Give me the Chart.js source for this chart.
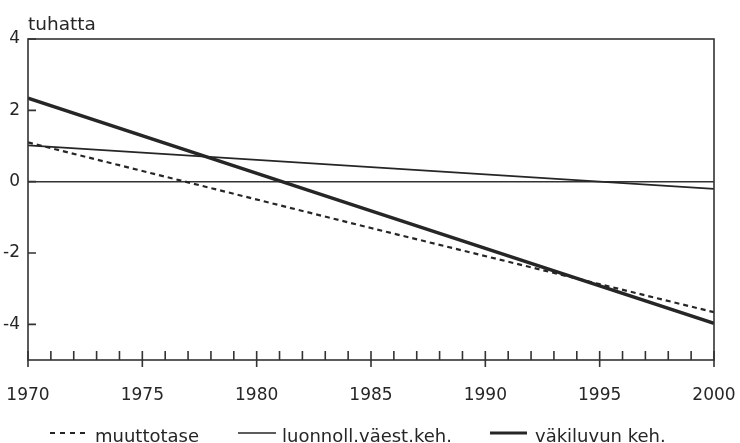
<!DOCTYPE html>
<html>
<head>
<meta charset="utf-8">
<script src="https://cdn.jsdelivr.net/npm/chart.js@4"></script>
<style>
  html, body { margin: 0; padding: 0; background: #fff; }
  #wrap { width: 740px; height: 443px; }
</style>
</head>
<body>
<div id="wrap"><canvas id="chart" width="740" height="443"></canvas></div>
<script>
// values (tuhatta)
const years = [1970, 1985, 2000];
const muuttotase = [1.10, -1.30, -3.66];
const luonnoll = [1.02, 0.41, -0.20];
const vakiluku = [2.34, -0.82, -3.97];

const xLabels = [1970, 1975, 1980, 1985, 1990, 1995, 2000];
const yTicks = [4, 2, 0, -2, -4];
const seriesNames = ['muuttotase', 'luonnoll.väest.keh.', 'väkiluvun keh.'];

const ink = '#262626';
const fontFamily = '"DejaVu Sans", sans-serif';

function pts(arr) {
    return years.map(function(y, i) { return { x: y, y: arr[i] }; });
}

// frame, tick marks, unit label and legend
const extras = {
    id: 'extras',
    afterDraw: function(chart) {
        const ctx = chart.ctx;
        const a = chart.chartArea;
        const xs = chart.scales.x;
        const ys = chart.scales.y;
        ctx.save();
        ctx.strokeStyle = '#333';
        ctx.lineWidth = 1.6;
        ctx.strokeRect(a.left, a.top, a.right - a.left, a.bottom - a.top);

        // x ticks: every year up, every 5th crosses the axis
        ctx.beginPath();
        for (let yr = xs.min; yr <= xs.max; yr++) {
            const px = xs.getPixelForValue(yr);
            if (yr % 5 === 0) {
                ctx.moveTo(px, a.bottom - 9);
                ctx.lineTo(px, a.bottom + 7);
            } else {
                ctx.moveTo(px, a.bottom - 9);
                ctx.lineTo(px, a.bottom);
            }
        }
        // y ticks inside the frame
        yTicks.forEach(function(v) {
            const py = ys.getPixelForValue(v);
            ctx.moveTo(a.left, py);
            ctx.lineTo(a.left + 8, py);
        });
        ctx.stroke();

        ctx.fillStyle = ink;
        ctx.font = '18.5px ' + fontFamily;
        ctx.textBaseline = 'alphabetic';
        ctx.textAlign = 'left';
        ctx.fillText('tuhatta', a.left, a.top - 9);

        // legend
        ctx.font = '18px ' + fontFamily;
        const legend = [
            { x0: 50, x1: 88, tx: 95, w: 2, dash: [5, 5] },
            { x0: 238, x1: 276, tx: 282, w: 1.6, dash: [] },
            { x0: 490, x1: 527, tx: 535, w: 3.2, dash: [] }
        ];
        const ly = 433;
        legend.forEach(function(l, i) {
            ctx.beginPath();
            ctx.setLineDash(l.dash);
            ctx.lineWidth = l.w;
            ctx.strokeStyle = ink;
            ctx.moveTo(l.x0, ly);
            ctx.lineTo(l.x1, ly);
            ctx.stroke();
            ctx.setLineDash([]);
            ctx.textBaseline = 'alphabetic';
            ctx.fillText(seriesNames[i], l.tx, 442);
        });
        ctx.restore();
    }
};

new Chart(document.getElementById('chart'), {
    type: 'line',
    data: {
        datasets: [
            {
                label: seriesNames[0],
                data: pts(muuttotase),
                borderColor: ink,
                borderWidth: 2.2,
                borderDash: [5, 4],
                pointRadius: 0,
                tension: 0
            },
            {
                label: seriesNames[1],
                data: pts(luonnoll),
                borderColor: ink,
                borderWidth: 1.8,
                pointRadius: 0,
                tension: 0
            },
            {
                label: seriesNames[2],
                data: pts(vakiluku),
                borderColor: ink,
                borderWidth: 3.4,
                pointRadius: 0,
                tension: 0
            }
        ]
    },
    options: {
        responsive: false,
        animation: false,
        devicePixelRatio: 1,
        layout: { padding: { top: 39, right: 26, left: 0, bottom: 0 } },
        plugins: {
            legend: { display: false },
            tooltip: { enabled: false }
        },
        scales: {
            x: {
                type: 'linear',
                min: 1970,
                max: 2000,
                afterBuildTicks: function(s) {
                    s.ticks = xLabels.map(function(v) { return { value: v }; });
                },
                afterFit: function(s) {
                    s.height = 83;
                    s.paddingLeft = 0;
                    s.paddingRight = 0;
                },
                grid: { display: false },
                border: { display: false },
                ticks: {
                    autoSkip: false,
                    maxRotation: 0,
                    padding: 17,
                    color: ink,
                    font: { family: fontFamily, size: 17 },
                    callback: function(v) { return String(v); }
                }
            },
            y: {
                type: 'linear',
                min: -5,
                max: 4,
                afterBuildTicks: function(s) {
                    s.ticks = yTicks.map(function(v) { return { value: v }; });
                },
                afterFit: function(s) {
                    s.width = 28;
                    s.paddingTop = 0;
                    s.paddingBottom = 0;
                },
                grid: {
                    drawTicks: false,
                    lineWidth: 1.6,
                    color: function(c) {
                        return c.tick && c.tick.value === 0 ? '#333' : 'rgba(0,0,0,0)';
                    }
                },
                border: { display: false },
                ticks: {
                    padding: 8,
                    color: ink,
                    font: { family: fontFamily, size: 17 },
                    callback: function(v) { return v < 0 ? '-' + Math.abs(v) : String(v); }
                }
            }
        }
    },
    plugins: [extras]
});
</script>
</body>
</html>
